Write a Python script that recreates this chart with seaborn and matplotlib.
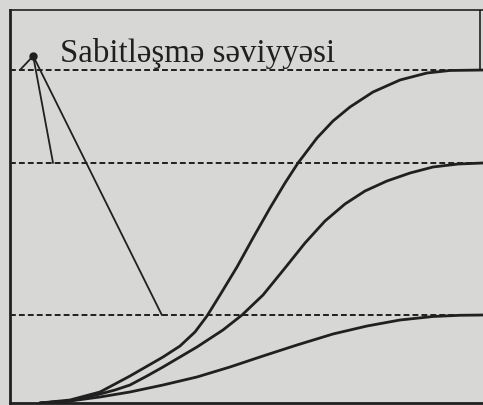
import numpy as np
import pandas as pd
import seaborn as sns
import matplotlib.pyplot as plt

# values (x: 0-100 across the box, y: 0-100 from bottom to top border)
x_fast = [6.34, 12.68, 19.03, 25.37, 32.35, 35.94, 39.11, 41.65, 44.40, 47.99, 51.37, 54.97,
          58.14, 60.89, 64.90, 68.29, 71.88, 76.74, 82.45, 88.16, 93.02, 100]
y_fast = [0.0, 0.76, 2.80, 6.87, 11.70, 14.50, 18.07, 22.14, 27.48, 34.61, 41.98, 49.62,
          55.98, 61.07, 67.43, 71.76, 75.32, 79.13, 82.19, 83.97, 84.61, 84.73]

x_mid = [6.34, 12.68, 19.03, 22.20, 25.37, 28.96, 32.35, 39.53, 45.03, 49.05, 53.49, 58.14,
         62.37, 66.60, 70.82, 75.05, 79.70, 84.57, 89.43, 94.71, 100]
y_mid = [0.0, 0.51, 2.29, 3.31, 4.58, 6.87, 9.16, 14.25, 18.58, 22.39, 27.48, 34.35,
         40.71, 46.31, 50.64, 53.94, 56.49, 58.52, 60.05, 60.81, 61.07]

x_slow = [6.34, 12.68, 19.03, 25.37, 32.35, 39.53, 46.51, 53.49, 60.68, 68.29, 75.48,
          82.45, 89.43, 95.14, 100]
y_slow = [0.0, 0.51, 1.53, 2.80, 4.58, 6.62, 9.16, 11.96, 14.76, 17.56, 19.59,
          21.12, 22.01, 22.32, 22.39]

levels = [84.73, 61.07, 22.39]
label = "Sabitləşmə səviyyəsi"
label_dot = (4.9, 88.3)
pointer_ends = [(2.1, 84.73), (9.1, 61.07), (32.1, 22.39)]

ink = "#202020"
paper = "#d7d7d5"

curves = pd.concat([
    pd.DataFrame({"x": x_fast, "y": y_fast, "curve": "fast"}),
    pd.DataFrame({"x": x_mid, "y": y_mid, "curve": "mid"}),
    pd.DataFrame({"x": x_slow, "y": y_slow, "curve": "slow"}),
])

sns.set_style("white")
fig = plt.figure(figsize=(4.83, 4.05), dpi=100, facecolor=paper)
ax = fig.add_axes([10 / 483, 2 / 405, 473 / 483, 393 / 405])
ax.set_facecolor(paper)

sns.lineplot(data=curves, x="x", y="y", units="curve", estimator=None,
             color=ink, lw=2.0, sort=False, ax=ax,
             solid_joinstyle="round", solid_capstyle="round")

for lv in levels:
    ax.axhline(lv, color=ink, lw=1.4, ls=(0, (3, 1.6)))

# frame: right edge only above the top level
ax.plot([99.4, 99.4], [levels[0], 100], color=ink, lw=1.2)

for ex, ey in pointer_ends:
    ax.plot([label_dot[0], ex], [label_dot[1], ey], color=ink, lw=1.3)
ax.plot(*label_dot, "o", color=ink, ms=5)

ax.text(10.6, 86.8, label, fontsize=23.7, family="Liberation Serif", color=ink)

ax.set_xlim(0, 100)
ax.set_ylim(0, 100)
ax.set_xticks([])
ax.set_yticks([])
ax.set_xlabel("")
ax.set_ylabel("")
for side in ["left", "bottom"]:
    ax.spines[side].set_color(ink)
    ax.spines[side].set_linewidth(2.0)
ax.spines["top"].set_color(ink)
ax.spines["top"].set_linewidth(1.2)
ax.spines["right"].set_visible(False)

fig.savefig("out.png", dpi=100, facecolor=paper)
